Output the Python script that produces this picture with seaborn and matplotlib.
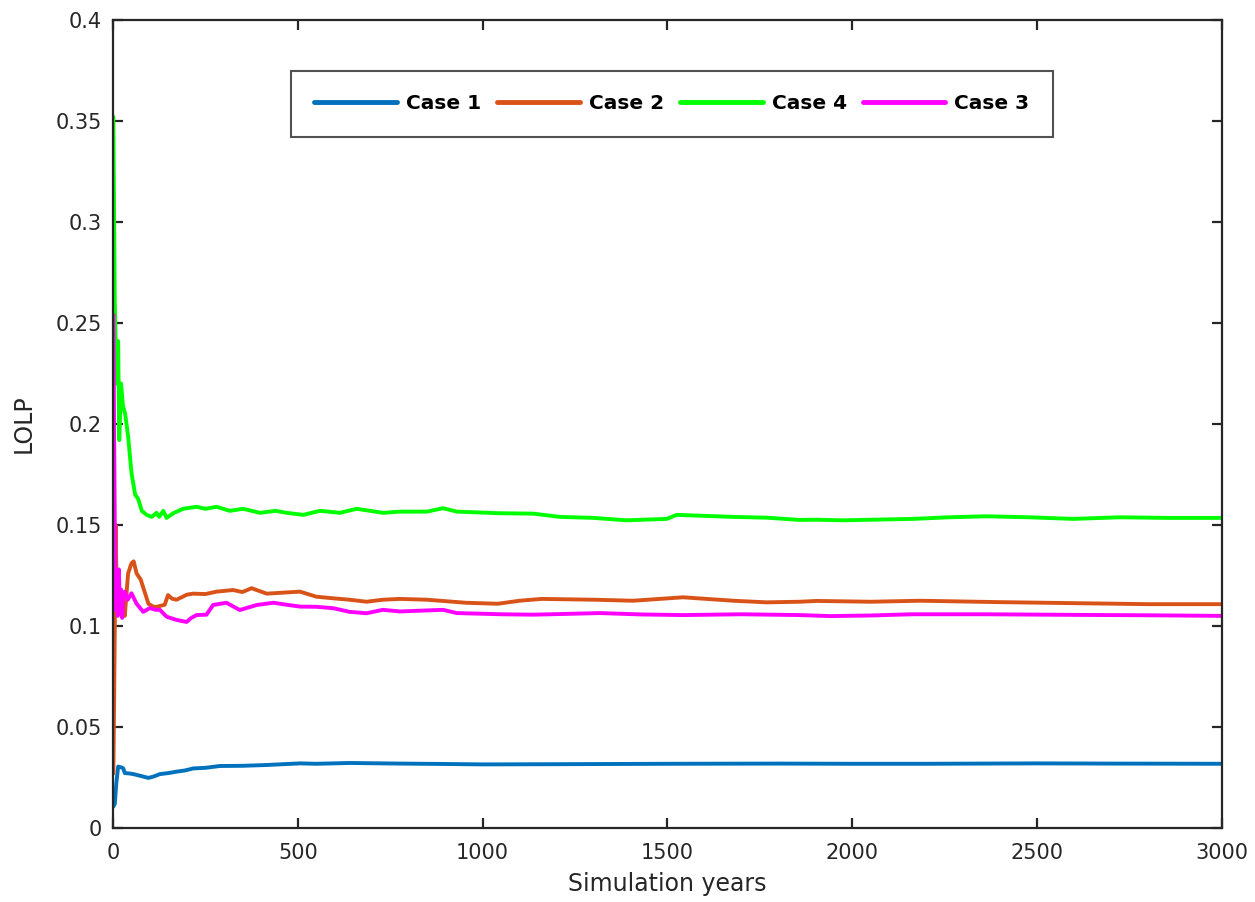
import numpy as np
import pandas as pd
import matplotlib
matplotlib.use("Agg")
import matplotlib.pyplot as plt
import seaborn as sns

# -----------------------------
# Data (simulation year, LOLP)
# -----------------------------
years_case1 = [1, 5, 9, 14, 23, 28, 32, 45, 55, 75, 96, 110, 127, 150, 172, 195, 217, 250,
               289, 350, 416, 460, 506, 550, 640, 776, 900, 1000, 1200, 1500, 1800, 2000,
               2200, 2500, 2700, 3000]
lolp_case1 = [0.0106, 0.012, 0.022, 0.0304, 0.030, 0.0295, 0.0272, 0.027, 0.0267, 0.0258,
              0.0248, 0.0255, 0.0267, 0.0272, 0.0279, 0.0285, 0.0295, 0.0298, 0.0307, 0.0308,
              0.0312, 0.0316, 0.032, 0.0318, 0.0322, 0.0319, 0.0317, 0.0315, 0.0316, 0.0318,
              0.0319, 0.0318, 0.0318, 0.032, 0.0319, 0.0318]

years_case2 = [1, 3, 5, 7, 9, 12, 16, 20, 25, 32, 41, 50, 56, 64, 75, 82, 96, 110, 118, 140,
               149, 160, 172, 200, 217, 250, 280, 325, 350, 375, 416, 460, 506, 550, 596, 640,
               686, 730, 776, 850, 954, 1041, 1100, 1159, 1300, 1407, 1542, 1678, 1768, 1858,
               1903, 2050, 2184, 2400, 2600, 2800, 3000]
lolp_case2 = [0.027, 0.06, 0.10, 0.15, 0.13, 0.11, 0.108, 0.118, 0.112, 0.105, 0.126, 0.131,
              0.132, 0.126, 0.123, 0.119, 0.111, 0.1095, 0.1095, 0.1105, 0.1153, 0.1135, 0.113,
              0.1155, 0.116, 0.1158, 0.117, 0.1178, 0.1168, 0.1187, 0.116, 0.1165, 0.117,
              0.1145, 0.1137, 0.113, 0.112, 0.113, 0.1134, 0.113, 0.1115, 0.111, 0.1125,
              0.1134, 0.113, 0.1125, 0.1142, 0.1125, 0.1117, 0.112, 0.1124, 0.112, 0.1125,
              0.1118, 0.1113, 0.1108, 0.1108]

years_case4 = [1, 5, 10, 14, 17, 22, 27, 33, 41, 50, 60, 68, 78, 91, 105, 118, 125, 136, 145,
               165, 190, 226, 250, 280, 316, 352, 398, 440, 470, 515, 560, 614, 659, 731, 776,
               849, 893, 930, 1047, 1137, 1209, 1300, 1389, 1498, 1525, 1600, 1678, 1768, 1858,
               1903, 1975, 2080, 2164, 2260, 2363, 2480, 2597, 2724, 2850, 3000]
lolp_case4 = [0.352, 0.26, 0.22, 0.241, 0.192, 0.22, 0.209, 0.205, 0.194, 0.176, 0.165, 0.163,
              0.157, 0.155, 0.154, 0.156, 0.154, 0.157, 0.1535, 0.156, 0.158, 0.159, 0.158,
              0.159, 0.157, 0.158, 0.156, 0.157, 0.156, 0.155, 0.157, 0.156, 0.158, 0.156,
              0.1566, 0.1566, 0.1583, 0.1566, 0.1558, 0.1556, 0.154, 0.1535, 0.1523, 0.153,
              0.155, 0.1545, 0.154, 0.1536, 0.1525, 0.1526, 0.1523, 0.1527, 0.153, 0.1538,
              0.1543, 0.1538, 0.153, 0.1538, 0.1535, 0.1535]

years_case3 = [1, 3, 5, 7, 10, 13, 16, 19, 22, 25, 28, 32, 40, 50, 64, 82, 100, 115, 127, 145,
               172, 199, 212, 226, 253, 271, 307, 343, 389, 434, 470, 506, 550, 596, 640, 686,
               730, 776, 893, 930, 1050, 1137, 1230, 1317, 1430, 1542, 1700, 1858, 1940, 2050,
               2160, 2363, 2600, 2800, 3000]
lolp_case3 = [0.254, 0.2, 0.15, 0.108, 0.125, 0.105, 0.128, 0.108, 0.118, 0.104, 0.115, 0.117,
              0.113, 0.1162, 0.111, 0.107, 0.1089, 0.108, 0.108, 0.1046, 0.103, 0.102, 0.104,
              0.1054, 0.1056, 0.1104, 0.1115, 0.1079, 0.1104, 0.1115, 0.1105, 0.1096, 0.1095,
              0.1088, 0.107, 0.1063, 0.108, 0.1072, 0.108, 0.1064, 0.1058, 0.1056, 0.106,
              0.1064, 0.1057, 0.1054, 0.1058, 0.1054, 0.1049, 0.1052, 0.1058, 0.1058, 0.1055,
              0.1053, 0.105]

case_order = ["Case 1", "Case 2", "Case 4", "Case 3"]
case_colors = ["#0072BD", "#D95319", "#00FF00", "#FF00FF"]

x_ticks = [0, 500, 1000, 1500, 2000, 2500, 3000]
y_ticks = [0, 0.05, 0.1, 0.15, 0.2, 0.25, 0.3, 0.35, 0.4]
y_tick_labels = ["0", "0.05", "0.1", "0.15", "0.2", "0.25", "0.3", "0.35", "0.4"]

# -----------------------------
# Long-format table for seaborn
# -----------------------------
frames = []
for name, xs, ys in [("Case 1", years_case1, lolp_case1),
                     ("Case 2", years_case2, lolp_case2),
                     ("Case 4", years_case4, lolp_case4),
                     ("Case 3", years_case3, lolp_case3)]:
    frames.append(pd.DataFrame({"year": xs, "lolp": ys, "case": name}))
df = pd.concat(frames, ignore_index=True)

# -----------------------------
# Plot
# -----------------------------
sns.set_style("ticks")
plt.rcParams["font.family"] = ["DejaVu Sans"]

fig = plt.figure(figsize=(12.55, 9.02), dpi=100)
ax = fig.add_axes([0.090, 0.082, 0.8837, 0.896])

sns.lineplot(data=df, x="year", y="lolp", hue="case", hue_order=case_order,
             palette=case_colors, linewidth=2.8, estimator=None, sort=False, ax=ax)

ax.set_xlim(0, 3000)
ax.set_ylim(0, 0.4)
ax.set_xticks(x_ticks)
ax.set_yticks(y_ticks)
ax.set_yticklabels(y_tick_labels)
ax.set_xlabel("Simulation years", fontsize=17, color="#262626", labelpad=6)
ax.set_ylabel("LOLP", fontsize=17, color="#262626", labelpad=14)

for side in ["left", "right", "top", "bottom"]:
    ax.spines[side].set_visible(True)
    ax.spines[side].set_linewidth(1.6)
    ax.spines[side].set_color("#262626")
ax.tick_params(direction="in", length=7, width=1.6, labelsize=15,
               top=True, right=True, color="#262626", labelcolor="#262626")
ax.tick_params(axis="x", pad=11)
ax.tick_params(axis="y", pad=8)

leg = ax.legend(loc="center", bbox_to_anchor=(0.504, 0.896), ncol=4, frameon=True,
                fancybox=False, edgecolor="#262626", borderpad=1.15,
                handlelength=4.1, handletextpad=0.45, columnspacing=0.8,
                prop={"weight": "bold", "size": 14.5})
leg.get_frame().set_linewidth(1.5)
for text in leg.get_texts():
    text.set_color("black")
for line in leg.get_lines():
    line.set_linewidth(3.5)

fig.savefig("out.png", dpi=100)
plt.close(fig)
